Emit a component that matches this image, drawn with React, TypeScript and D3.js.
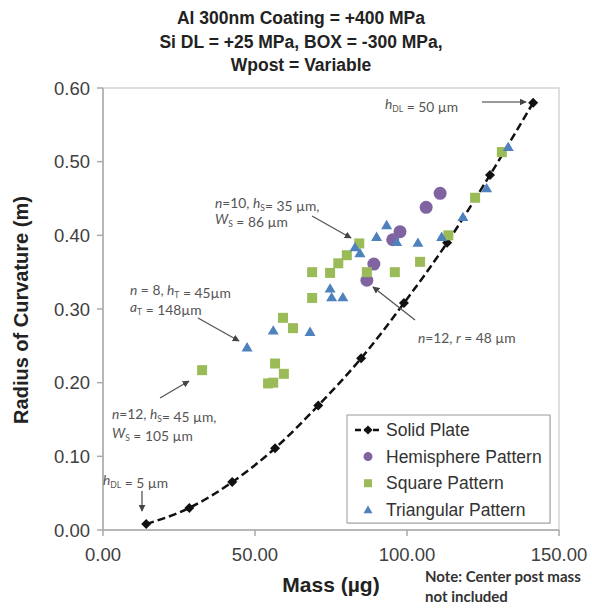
import React from "react";
import * as d3 from "d3";

const titleLines = [
  "Al 300nm Coating = +400 MPa",
  "Si DL = +25 MPa, BOX = -300 MPa,",
  "Wpost = Variable",
];
const xTicks = [0, 50, 100, 150];
const yTicks = [0, 0.1, 0.2, 0.3, 0.4, 0.5, 0.6];

const solidMass = [14.2, 28.4, 42.5, 56.6, 70.8, 84.9, 99.0, 113.2, 127.3, 141.5];
const solidR = [0.008, 0.03, 0.065, 0.111, 0.169, 0.233, 0.308, 0.39, 0.482, 0.58];

const hemiMass = [86.8, 89.1, 95.3, 97.7, 106.3, 110.9];
const hemiR = [0.339, 0.361, 0.394, 0.405, 0.438, 0.457];

const squareMass = [32.6, 54.3, 56.0, 56.6, 59.5, 59.2, 62.5, 68.8, 68.8, 74.7, 77.4, 80.2, 84.3, 86.8, 96.0, 104.3, 113.6, 122.4, 131.2];
const squareR = [0.217, 0.199, 0.2, 0.226, 0.212, 0.288, 0.274, 0.315, 0.35, 0.349, 0.362, 0.373, 0.389, 0.35, 0.35, 0.364, 0.4, 0.451, 0.513];

const triMass = [47.4, 56.0, 68.1, 74.7, 75.2, 78.9, 82.9, 84.5, 90.0, 93.3, 96.6, 103.6, 111.4, 118.4, 126.2, 133.3];
const triR = [0.248, 0.271, 0.269, 0.328, 0.316, 0.316, 0.384, 0.376, 0.398, 0.414, 0.391, 0.39, 0.398, 0.425, 0.464, 0.52];

const legendLabels = ["Solid Plate", "Hemisphere Pattern", "Square Pattern", "Triangular Pattern"];

const PURPLE = "#8064A2";
const GREEN = "#9BBB59";
const BLUE = "#4F81BD";
const ANN = "#555555";
const ANN_FONT = "Lato, 'Open Sans', sans-serif";
const MAIN_FONT = "'Liberation Sans', Arial, sans-serif";

const x = d3.scaleLinear().domain([0, 150]).range([103, 559]);
const y = d3.scaleLinear().domain([0, 0.6]).range([530, 88]);

const diamond = (cx: number, cy: number, s: number) =>
  `M${cx},${cy - s}L${cx + s},${cy}L${cx},${cy + s}L${cx - s},${cy}Z`;
const tri = (cx: number, cy: number, s: number) =>
  `M${cx},${cy - s * 0.95}L${cx + s},${cy + s * 0.75}L${cx - s},${cy + s * 0.75}Z`;

const Sub = ({ t }: { t: string }) => (
  <>
    <tspan dy={3} fontSize={8.5}>{t}</tspan>
    <tspan dy={-3}></tspan>
  </>
);
const I = ({ t }: { t: string }) => <tspan fontStyle="italic">{t}</tspan>;

export default function App() {
  const line = d3
    .line<number>()
    .x((_, i) => x(solidMass[i]))
    .y((d) => y(d))
    .curve(d3.curveMonotoneX);

  const arrows: [number, number, number, number][] = [
    [482, 102, 526, 102],
    [312, 216, 351, 238],
    [198, 318, 239, 341],
    [160, 398, 189, 381],
    [415, 320, 373, 287],
    [142, 491, 142, 511],
  ];

  return (
    <svg width={592} height={612} style={{ position: "absolute", left: 0, top: 0, background: "#fff" }}>
      <defs>
        <marker id="ah" viewBox="0 0 10 10" refX="9" refY="5" markerWidth="7" markerHeight="7" orient="auto" markerUnits="userSpaceOnUse">
          <path d="M0,0L10,5L0,10Z" fill="#444" />
        </marker>
      </defs>
      {titleLines.map((t, i) => (
        <text key={i} x={301} y={24 + i * 23.5} textAnchor="middle" fontFamily={MAIN_FONT} fontWeight="bold" fontSize={17.5} fill="#222">
          {t}
        </text>
      ))}

      {/* plot frame */}
      <rect x={103} y={88} width={456} height={442} fill="none" stroke="#d4d4d4" strokeWidth={1.5} />
      <line x1={103} y1={88} x2={103} y2={530} stroke="#aaa" strokeWidth={1.5} />
      <line x1={103} y1={530} x2={559} y2={530} stroke="#aaa" strokeWidth={1.5} />

      {yTicks.map((t) => (
        <g key={t}>
          <line x1={97} x2={103} y1={y(t)} y2={y(t)} stroke="#aaa" strokeWidth={1.5} />
          <text x={90} y={y(t) + 6.5} textAnchor="end" fontFamily={MAIN_FONT} fontSize={18.5} fill="#404040">
            {d3.format(".2f")(t)}
          </text>
        </g>
      ))}
      {xTicks.map((t) => (
        <g key={t}>
          <line x1={x(t)} x2={x(t)} y1={530} y2={536} stroke="#aaa" strokeWidth={1.5} />
          <text x={x(t)} y={561} textAnchor="middle" fontFamily={MAIN_FONT} fontSize={18.5} fill="#404040">
            {d3.format(".2f")(t)}
          </text>
        </g>
      ))}

      <text transform="translate(28,310) rotate(-90)" textAnchor="middle" fontFamily={MAIN_FONT} fontWeight="bold" fontSize={20} fill="#222">
        Radius of Curvature (m)
      </text>
      <text x={331} y={592} textAnchor="middle" fontFamily={MAIN_FONT} fontWeight="bold" fontSize={21} fill="#222">
        Mass (µg)
      </text>
      <text x={425} y={582} fontFamily={ANN_FONT} fontWeight="bold" fontSize={15} fill="#333">Note: Center post mass</text>
      <text x={425} y={602} fontFamily={ANN_FONT} fontWeight="bold" fontSize={15} fill="#333">not included</text>

      {/* solid plate */}
      <path d={line(solidR) || ""} fill="none" stroke="#111" strokeWidth={2.5} strokeDasharray="8,4" />
      {solidR.map((r, i) => (
        <path key={i} d={diamond(x(solidMass[i]), y(r), 5)} fill="#111" />
      ))}
      {hemiR.map((r, i) => (
        <circle key={i} cx={x(hemiMass[i])} cy={y(r)} r={6.5} fill={PURPLE} />
      ))}
      {squareR.map((r, i) => (
        <rect key={i} x={x(squareMass[i]) - 5} y={y(r) - 5} width={10} height={10} fill={GREEN} />
      ))}
      {triR.map((r, i) => (
        <path key={i} d={tri(x(triMass[i]), y(r), 5.5)} fill={BLUE} />
      ))}

      {/* annotations */}
      {arrows.map(([x1, y1, x2, y2], i) => (
        <line key={i} x1={x1} y1={y1} x2={x2} y2={y2} stroke={i === 0 ? "#999" : "#555"} strokeWidth={i === 0 ? 2.2 : 1.3} markerEnd="url(#ah)" />
      ))}
      <g fontFamily={ANN_FONT} fontSize={13.8} fill={ANN}>
        <text x={385} y={109}>
          <I t="h" /><Sub t="DL" /> = 50 µm
        </text>
        <text x={215} y={208}>
          <I t="n" />=10, <I t="h" /><Sub t="S" />= 35 µm,
        </text>
        <text x={215} y={224}>
          <I t="W" /><Sub t="S" /> = 86 µm
        </text>
        <text x={130} y={295}>
          <I t="n" /> = 8, <I t="h" /><Sub t="T" /> = 45µm
        </text>
        <text x={130} y={312}>
          <I t="a" /><Sub t="T" /> = 148µm
        </text>
        <text x={112} y={419}>
          <I t="n" />=12, <I t="h" /><Sub t="S" />= 45 µm,
        </text>
        <text x={112} y={438}>
          <I t="W" /><Sub t="S" /> = 105 µm
        </text>
        <text x={418} y={343}>
          <I t="n" />=12, <I t="r" /> = 48 µm
        </text>
        <text x={103} y={485}>
          <I t="h" /><Sub t="DL" /> = 5 µm
        </text>
      </g>

      {/* legend */}
      <rect x={348} y={416} width={203} height={108} fill="#000" opacity={0.12} />
      <rect x={347} y={415} width={203} height={108} fill="#fff" stroke="#999" strokeWidth={1} />
      {legendLabels.map((l, i) => {
        const cy = 430 + i * 26.6;
        return (
          <g key={l}>
            {i === 0 && (
              <>
                <line x1={355} x2={380} y1={cy} y2={cy} stroke="#111" strokeWidth={2.5} strokeDasharray="6,3" />
                <path d={diamond(368, cy, 4.5)} fill="#111" />
              </>
            )}
            {i === 1 && <circle cx={368} cy={cy} r={4.5} fill={PURPLE} />}
            {i === 2 && <rect x={364} y={cy - 4} width={8} height={8} fill={GREEN} />}
            {i === 3 && <path d={tri(368, cy, 4.5)} fill={BLUE} />}
            <text x={386} y={cy + 6} fontFamily={MAIN_FONT} fontSize={17.5} fill="#333">
              {l}
            </text>
          </g>
        );
      })}
    </svg>
  );
}
